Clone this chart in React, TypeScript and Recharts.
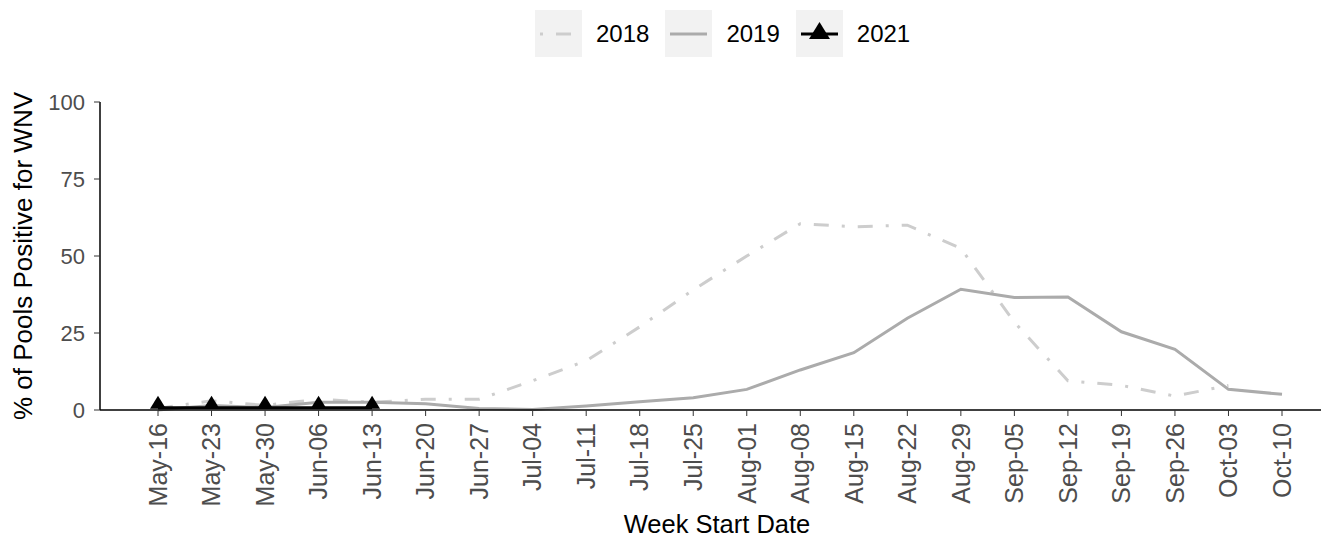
import React from "react"
import { LineChart, Line, XAxis, YAxis, Label } from "recharts"

// week start dates on the x axis
const weeks = [
  "May-16", "May-23", "May-30", "Jun-06", "Jun-13", "Jun-20", "Jun-27", "Jul-04",
  "Jul-11", "Jul-18", "Jul-25", "Aug-01", "Aug-08", "Aug-15", "Aug-22", "Aug-29",
  "Sep-05", "Sep-12", "Sep-19", "Sep-26", "Oct-03", "Oct-10",
]

// % of pools positive
const pct2018 = [0.5, 3, 1.5, 3.5, 2.5, 3.5, 3.5, 9.5, 16, 27, 39, 50, 60.5, 59.5, 60, 52.5, 28.5, 9.5, 8, 4.5, 8, null]
const pct2019 = [0, 1.5, 0.8, 2.5, 2.5, 2, 0.5, 0.2, 1.3, 2.7, 4, 6.7, 13, 18.6, 29.8, 39.2, 36.5, 36.7, 25.4, 19.7, 6.7, 5.1]
const pct2021 = [0.7, 0.7, 0.7, 0.7, 0.7]

const yTicks = [0, 25, 50, 75, 100]

const chartData = weeks.map((week, i) => ({
  week,
  y2018: pct2018[i] ?? null,
  y2019: pct2019[i] ?? null,
  y2021: i < pct2021.length ? pct2021[i] : null,
}))

const FONT = "'Liberation Sans', Arial, sans-serif"
const C2018 = "#cdcdcd"
const C2019 = "#ababab"
const DASH2018 = "15 13 3 13"

const RotatedTick = (props: any) => {
  const { x, y, payload } = props
  return (
    <text
      transform={`translate(${x},${y + 5}) rotate(-90)`}
      textAnchor="end"
      dy="0.35em"
      fontSize={25}
      fontFamily={FONT}
      fill="#4d4d4d"
    >
      {payload.value}
    </text>
  )
}

const Triangle = (props: any) => {
  const { cx, cy } = props
  if (cx == null || cy == null) return null
  return <polygon points={`${cx - 8},${cy + 1} ${cx + 8},${cy + 1} ${cx},${cy - 12}`} fill="#000" />
}

// axis titles placed from the axis box recharts hands over
const XTitle = (props: any) => {
  const vb = props.viewBox || {}
  return (
    <text x={vb.x + vb.width / 2 + 4} y={533} textAnchor="middle" fontSize={25.5} fontFamily={FONT} fill="#000">
      Week Start Date
    </text>
  )
}

const YTitle = (props: any) => {
  const vb = props.viewBox || {}
  const cy = vb.y + vb.height / 2
  return (
    <text
      transform={`translate(32,${cy}) rotate(-90)`}
      textAnchor="middle"
      fontSize={26}
      fontFamily={FONT}
      fill="#000"
    >
      % of Pools Positive for WNV
    </text>
  )
}

function LegendKey({ kind }: { kind: string }) {
  return (
    <div style={{ width: 47, height: 47, background: "#f2f2f2" }}>
      <svg width={47} height={47}>
        {kind === "2018" && (
          <line x1={5} y1={24} x2={42} y2={24} stroke={C2018} strokeWidth={3} strokeDasharray="3 13 15 13" />
        )}
        {kind === "2019" && <line x1={5} y1={24} x2={42} y2={24} stroke={C2019} strokeWidth={3} />}
        {kind === "2021" && (
          <g>
            <line x1={5} y1={24} x2={42} y2={24} stroke="#000" strokeWidth={3} />
            <polygon points="13,29 34,29 23.5,12" fill="#000" />
          </g>
        )}
      </svg>
    </div>
  )
}

export default function App() {
  const series = ["2018", "2019", "2021"]
  return (
    <div style={{ position: "relative", width: 1329, height: 541, margin: "-8px 0 0 -8px", background: "#fff" }}>
      <div
        style={{
          position: "absolute",
          top: 10,
          left: 535,
          display: "flex",
          alignItems: "center",
          fontFamily: FONT,
          fontSize: 24,
          color: "#000",
          zIndex: 2,
        }}
      >
        {series.map((s, i) => (
          <div key={s} style={{ display: "flex", alignItems: "center", marginLeft: i === 0 ? 0 : 16 }}>
            <LegendKey kind={s} />
            <span style={{ marginLeft: 14 }}>{s}</span>
          </div>
        ))}
      </div>
      <LineChart width={1329} height={541} data={chartData} margin={{ top: 102, right: 3, bottom: 0, left: 40 }}>
        <XAxis
          dataKey="week"
          height={131}
          padding={{ left: 58, right: 44 }}
          tick={<RotatedTick />}
          tickSize={6}
          interval={0}
          axisLine={{ stroke: "#000", strokeWidth: 1.5 }}
          tickLine={{ stroke: "#333" }}
        >
          <Label content={<XTitle />} />
        </XAxis>
        <YAxis
          width={60}
          domain={[0, 100]}
          ticks={yTicks}
          tickSize={6}
          tickMargin={9}
          tick={{ fontSize: 22, fontFamily: FONT, fill: "#4d4d4d" }}
          axisLine={{ stroke: "#000", strokeWidth: 1.5 }}
          tickLine={{ stroke: "#333" }}
        >
          <Label content={<YTitle />} />
        </YAxis>
        <Line
          dataKey="y2018"
          type="linear"
          stroke={C2018}
          strokeWidth={3}
          strokeDasharray={DASH2018}
          dot={false}
          isAnimationActive={false}
        />
        <Line dataKey="y2019" type="linear" stroke={C2019} strokeWidth={3} dot={false} isAnimationActive={false} />
        <Line
          dataKey="y2021"
          type="linear"
          stroke="#000"
          strokeWidth={3}
          dot={<Triangle />}
          activeDot={false}
          isAnimationActive={false}
        />
      </LineChart>
    </div>
  )
}
